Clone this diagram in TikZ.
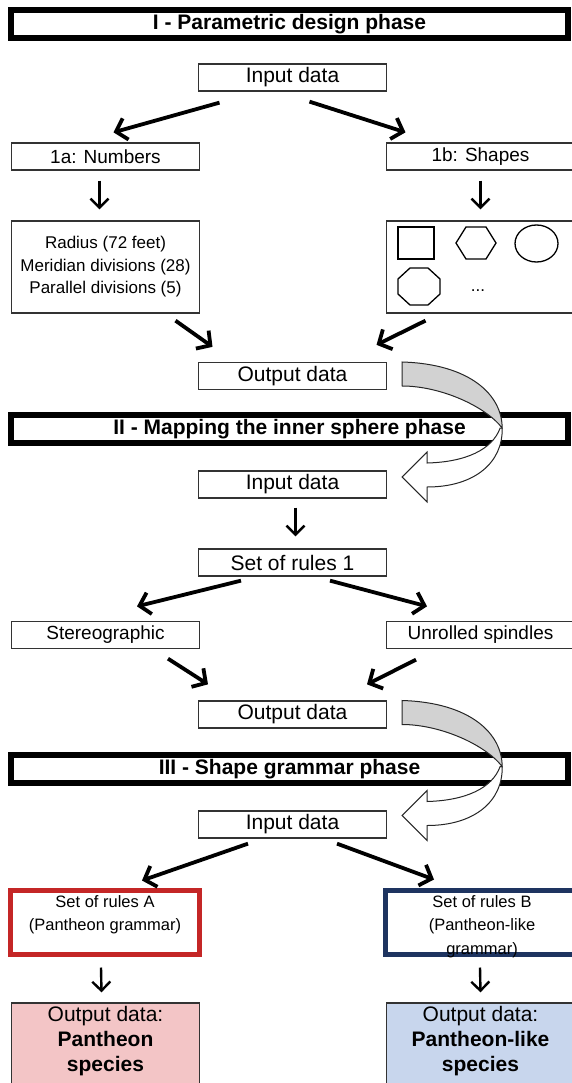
\documentclass[tikz,border=0pt]{standalone}
\usepackage{fontspec}
\setmainfont{Liberation Sans}
\usetikzlibrary{arrows.meta}

\definecolor{rulered}{RGB}{196,38,38}
\definecolor{rulenavy}{RGB}{30,52,96}
\definecolor{respink}{RGB}{243,197,198}
\definecolor{resblue}{RGB}{200,214,237}

\begin{document}
\begin{tikzpicture}[x=1pt, y=-1pt,
  box/.style={draw=black!80, line width=1.3pt, fill=white, minimum width=188pt, minimum height=27pt, inner sep=0pt, font=\fontsize{21}{25}\selectfont},
  sidebox/.style={box, font=\fontsize{19}{23}\selectfont},
  phase/.style={draw, line width=6pt, fill=white, minimum width=557pt, minimum height=28pt, inner sep=0pt, font=\bfseries\fontsize{21}{25}\selectfont},
  rules/.style={draw=#1, line width=5pt, fill=white, minimum width=189pt, minimum height=64pt},
  result/.style={draw=black!80, line width=1.3pt, fill=#1, minimum width=188pt, minimum height=92pt},
  txt/.style={anchor=north, inner sep=0pt, align=center},
  arr/.style={-{Straight Barb[length=10pt,width=22pt]}, line width=3.8pt},
  darr/.style={-{Straight Barb[length=9pt,width=18pt]}, line width=2.4pt},
  uturn/.style={draw=black!85, line width=1pt}]

\useasboundingbox (0,0) rectangle (572,1083);

\node[phase] (ph1) at (289.5,24) {I - Parametric design phase};
\node[box] (in1) at (292.5,77.5) {Input data};
\node[sidebox] (num) at (105.5,156.5) {1a: Numbers};
\node[sidebox] (shp) at (480.5,156.5) {1b: Shapes};
\node[box, minimum height=92pt, align=center, font=\fontsize{17}{22.5}\selectfont] (par) at (105.5,267) {Radius (72 feet)\\Meridian divisions (28)\\Parallel divisions (5)};
\node[box, minimum height=92pt] (lib) at (480.5,267) {};
\node[box] (out1) at (292.5,376) {Output data};

\draw[line width=1.3pt] (398,227) rectangle (434,259);
\draw[line width=1.3pt] (456,243) -- (466,227) -- (486,227) -- (496,243) -- (486,259) -- (466,259) -- cycle;
\draw[line width=1.3pt] (536.5,243.5) ellipse [x radius=21.5, y radius=18.5];
\draw[line width=1.3pt] (410,268) -- (428,268) -- (440,279) -- (440,294) -- (428,305) -- (410,305) -- (398,294) -- (398,279) -- cycle;
\node[font=\fontsize{17}{20}\selectfont] (dots) at (478,291) {...};

\draw[arr] ([xshift=-73pt,yshift=-11pt]in1.south) -- ([xshift=8pt,yshift=10pt]num.north);
\draw[arr] ([xshift=17pt,yshift=-10pt]in1.south) -- ([xshift=-75pt,yshift=10pt]shp.north);
\draw[darr] ([xshift=-6pt,yshift=-10pt]num.south) -- ([xshift=-6pt,yshift=11pt]par.north);
\draw[darr] ([yshift=-10pt]shp.south) -- ([yshift=11pt]lib.north);
\draw[arr] ([xshift=70pt,yshift=-7pt]par.south) -- ([xshift=-80pt,yshift=15pt]out1.north);
\draw[arr] ([xshift=-55pt,yshift=-7pt]lib.south) -- ([xshift=84pt,yshift=17pt]out1.north);

\node[phase] (ph2) at (289.5,429) {II - Mapping the inner sphere phase};
\node[box] (in2) at (292.5,484.5) {Input data};
\node[box] (rul1) at (292.5,562.5) {Set of rules 1};
\node[sidebox] (ste) at (105.5,635) {Stereographic};
\node[sidebox] (unr) at (480.5,635) {Unrolled spindles};
\node[box] (out2) at (292.5,714.5) {Output data};

\draw[darr] ([xshift=3pt,yshift=-9pt]in2.south) -- ([xshift=3pt,yshift=12pt]rul1.north);
\draw[arr] ([xshift=-51.5pt,yshift=-4pt]rul1.south) -- ([xshift=31.5pt,yshift=14.5pt]ste.north);
\draw[arr] ([xshift=37.5pt,yshift=-4pt]rul1.south) -- ([xshift=-53.5pt,yshift=14.5pt]unr.north);
\draw[arr] ([xshift=62.5pt,yshift=-9.5pt]ste.south) -- ([xshift=-84.5pt,yshift=16pt]out2.north);
\draw[arr] ([xshift=-64.5pt,yshift=-10.5pt]unr.south) -- ([xshift=74.5pt,yshift=16pt]out2.north);

\node[phase] (ph3) at (289.5,769) {III - Shape grammar phase};
\node[box] (in3) at (292.5,824.5) {Input data};
\node[rules=rulered] (rulA) at (105,922.5) {};
\node[rules=rulenavy] (rulB) at (480,922.5) {};
\node[txt, font=\fontsize{16.5}{23.5}\selectfont] (rulAtext) at ([yshift=-7pt]rulA.north) {Set of rules A\\(Pantheon grammar)};
\node[txt, font=\fontsize{16.5}{23.5}\selectfont] (rulBtext) at ([xshift=2pt,yshift=-7pt]rulB.north) {Set of rules B\\(Pantheon-like\\grammar)};
\node[result=respink] (resA) at (105.5,1049) {};
\node[result=resblue] (resB) at (480.5,1049) {};
\node[txt, font=\fontsize{21}{25}\selectfont] (resAtext) at ([yshift=-4pt]resA.north) {Output data:\\\textbf{Pantheon}\\\textbf{species}};
\node[txt, font=\fontsize{21}{25}\selectfont] (resBtext) at ([yshift=-4pt]resB.north) {Output data:\\\textbf{Pantheon-like}\\\textbf{species}};

\draw[arr] ([xshift=-44.5pt,yshift=-5pt]in3.south) -- ([xshift=37pt,yshift=7.5pt]rulA.north);
\draw[arr] ([xshift=44.5pt,yshift=-5pt]in3.south) -- ([xshift=-46pt,yshift=8.5pt]rulB.north);
\draw[darr] ([xshift=-4pt,yshift=-10.5pt]rulA.south) -- ([xshift=-4pt,yshift=10pt]resA.north);
\draw[darr] ([yshift=-10.5pt]rulB.south) -- ([yshift=10pt]resB.north);

\foreach \o in {out1,out2}{
  \begin{scope}[shift={(\o.east)}]
    \draw[uturn, fill=gray!35] (15,-14) .. controls (83,-12) and (115,19) .. (115,52) .. controls (98,30) and (53,10) .. (15,10) -- cycle;
    \draw[uturn, fill=white] (115,52) .. controls (116,86) and (88,111) .. (40,111) -- (40,126) -- (15,101) -- (40,76) -- (40,87) .. controls (78,86) and (105,74) .. (113,52) -- cycle;
  \end{scope}
}

\end{tikzpicture}
\end{document}
